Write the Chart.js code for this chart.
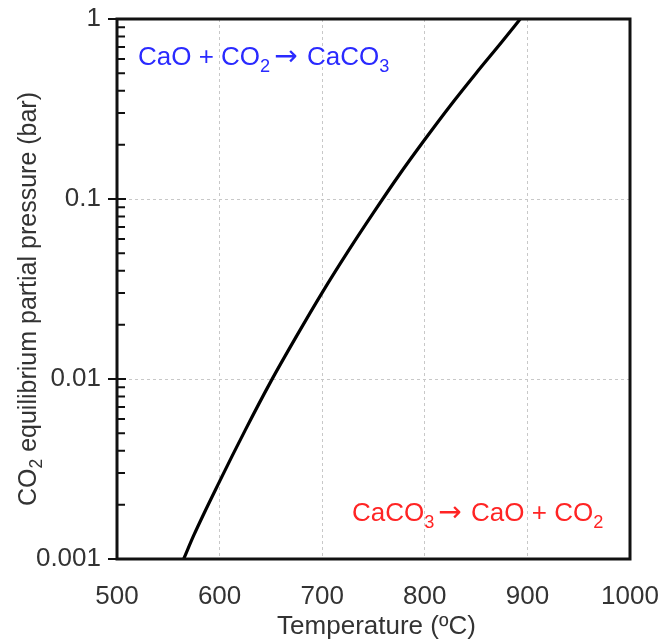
<!DOCTYPE html>
<html>
<head>
<meta charset="utf-8">
<script src="https://cdn.jsdelivr.net/npm/chart.js@4.4.1/dist/chart.umd.min.js"></script>
<style>
  html, body { margin: 0; padding: 0; background: #fff; }
  #wrap { width: 661px; height: 643px; }
</style>
</head>
<body>
<div id="wrap"><canvas id="chart" width="661" height="643"></canvas></div>
<script>
// equilibrium curve
const temperature = [565, 575, 600, 625, 650, 675, 700, 725, 750, 775, 800, 825, 850, 875, 893];
const pressure = [0.001, 0.00136, 0.0027, 0.0052, 0.0097, 0.0173, 0.0302, 0.051, 0.084, 0.136, 0.214, 0.331, 0.50, 0.745, 1.0];

const xTicks = [500, 600, 700, 800, 900, 1000];
const yTicks = [0.001, 0.01, 0.1, 1];

const FONT = '"Liberation Sans", Arial, sans-serif';
const ARROW_FONT = '"DejaVu Sans", sans-serif';

// text with subscripts: parts = [[text, kind], ...]  kind: 0 normal, 1 subscript, 2 arrow
function partFont(p, size) {
    if (p[1] === 1) return (size * 0.7) + 'px ' + FONT;
    if (p[1] === 2) return (size + 2) + 'px ' + ARROW_FONT;
    return size + 'px ' + FONT;
}

function partWidth(ctx, p, size) {
    ctx.font = partFont(p, size);
    // arrows get a little air on both sides
    return ctx.measureText(p[0]).width + (p[1] === 2 ? 6 : 0);
}

function drawRich(ctx, parts, x, y, size, color, align) {
    ctx.save();
    ctx.fillStyle = color;
    ctx.textBaseline = 'alphabetic';
    ctx.textAlign = 'left';
    let width = 0;
    parts.forEach(p => { width += partWidth(ctx, p, size); });
    let cx = align === 'center' ? x - width / 2 : x;
    parts.forEach(p => {
        const w = partWidth(ctx, p, size);
        ctx.font = partFont(p, size);
        ctx.fillText(p[0], p[1] === 2 ? cx + 4 : cx, p[1] === 1 ? y + size * 0.25 : y);
        cx += w;
    });
    ctx.restore();
}

const extras = {
    id: 'extras',
    afterDraw(chart) {
        const ctx = chart.ctx;
        const a = chart.chartArea;
        const ys = chart.scales.y;

        // y ticks: majors both sides, minors inside
        ctx.save();
        ctx.strokeStyle = '#111';
        ctx.lineWidth = 2;
        ctx.beginPath();
        for (let e = -3; e <= 0; e++) {
            const yp = ys.getPixelForValue(Math.pow(10, e));
            ctx.moveTo(a.left - 9, yp);
            ctx.lineTo(a.left + 9, yp);
            if (e < 0) {
                for (let m = 2; m <= 9; m++) {
                    const ym = ys.getPixelForValue(m * Math.pow(10, e));
                    ctx.moveTo(a.left, ym);
                    ctx.lineTo(a.left + 8, ym);
                }
            }
        }
        ctx.stroke();

        // frame
        ctx.lineWidth = 3;
        ctx.strokeStyle = '#111';
        ctx.strokeRect(a.left, a.top, a.right - a.left, a.bottom - a.top);
        ctx.restore();

        // axis titles
        drawRich(ctx, [['Temperature (ºC)', 0]], (a.left + a.right) / 2 + 3, 634, 26, '#333', 'center');
        ctx.save();
        ctx.translate(36, (a.top + a.bottom) / 2 + 10);
        ctx.rotate(-Math.PI / 2);
        drawRich(ctx, [['CO', 0], ['2', 1], [' equilibrium partial pressure (bar)', 0]], 0, 0, 25, '#333', 'center');
        ctx.restore();

        // reaction labels
        drawRich(ctx, [['CaO + CO', 0], ['2', 1], ['\u2192', 2], [' CaCO', 0], ['3', 1]], 138, 65, 26, '#2a2aff', 'left');
        drawRich(ctx, [['CaCO', 0], ['3', 1], ['\u2192', 2], [' CaO + CO', 0], ['2', 1]], 352, 521, 26, '#ff2424', 'left');
    }
};

new Chart(document.getElementById('chart').getContext('2d'), {
    type: 'line',
    data: {
        datasets: [{
            data: temperature.map((t, i) => ({ x: t, y: pressure[i] })),
            borderColor: '#000',
            borderWidth: 3.2,
            pointRadius: 0,
            cubicInterpolationMode: 'monotone',
            fill: false
        }]
    },
    options: {
        responsive: false,
        animation: false,
        layout: { padding: { top: 19, right: 31, left: 0, bottom: 0 } },
        plugins: { legend: { display: false }, tooltip: { enabled: false } },
        scales: {
            x: {
                type: 'linear',
                min: 500,
                max: 1000,
                afterBuildTicks: s => { s.ticks = xTicks.map(v => ({ value: v })); },
                afterFit: s => { s.height = 84; s.paddingLeft = 0; s.paddingRight = 0; },
                grid: {
                    drawTicks: false,
                    color: c => (c.tick && c.tick.value > 500 && c.tick.value < 1000) ? '#c8c8c8' : 'rgba(0,0,0,0)',
                    lineWidth: 1
                },
                border: { display: false, dash: [3, 3] },
                ticks: { color: '#333', font: { size: 26, family: FONT }, padding: 22, maxRotation: 0, callback: v => String(v) }
            },
            y: {
                type: 'logarithmic',
                min: 0.001,
                max: 1,
                afterBuildTicks: s => { s.ticks = yTicks.map(v => ({ value: v, major: true })); },
                afterFit: s => { s.width = 117; s.paddingTop = 0; s.paddingBottom = 0; },
                grid: {
                    drawTicks: false,
                    color: c => (c.tick && c.tick.value > 0.001 && c.tick.value < 1) ? '#c8c8c8' : 'rgba(0,0,0,0)',
                    lineWidth: 1
                },
                border: { display: false, dash: [3, 3] },
                ticks: {
                    color: '#333',
                    font: { size: 26, family: FONT },
                    padding: 16,
                    callback: v => String(v)
                }
            }
        }
    },
    plugins: [extras]
});
</script>
</body>
</html>
